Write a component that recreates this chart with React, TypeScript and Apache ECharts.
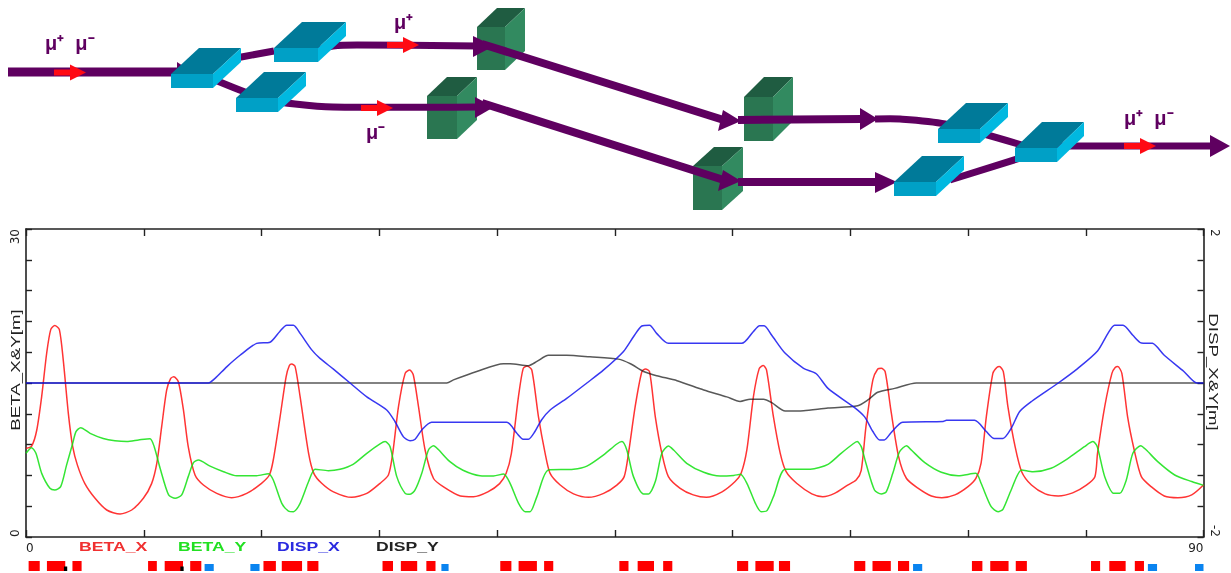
import React, { useEffect, useRef } from "react";
import * as echarts from "echarts";

type Pt = [number, number];

const betaX: Pt[] = [[0,8.64],[0.43,8.86],[0.82,10.4],[1.2,13.7],[1.58,17.9],[1.89,20.2],[2.2,20.6],[2.55,20.2],[2.85,17.2],[3.24,12],[3.57,8.8],[3.93,7],[4.5,5.2],[5.28,3.77],[6.17,2.63],[7.19,2.24],[8.08,2.63],[8.97,3.77],[9.6,5.2],[10,7.2],[10.37,10.75],[10.75,14.3],[11.06,15.45],[11.3,15.6],[11.65,15.1],[12.03,12.4],[12.4,8.8],[12.92,6.04],[13.56,5.06],[14.58,4.25],[15.72,3.83],[16.87,4.25],[18,5.23],[18.6,6.04],[18.9,7.5],[19.42,11.7],[19.88,15.6],[20.13,16.7],[20.31,16.85],[20.57,16.6],[20.95,13.67],[21.6,8.15],[22,6.2],[22.6,5.23],[23.5,4.4],[24.9,3.86],[26.05,4.25],[27.06,5.23],[27.7,6.04],[28.03,8.15],[28.47,12.7],[28.98,15.94],[29.33,16.27],[29.6,15.8],[30,12.7],[30.5,8.5],[31.15,5.7],[31.9,4.9],[33.2,4],[34.2,3.93],[35.3,4.4],[36.2,5.2],[36.7,6.2],[37.1,8.15],[37.64,13.67],[38,16.4],[38.3,16.65],[38.66,16.27],[39.17,11.7],[39.68,8.15],[40.06,6.2],[40.83,5.06],[41.85,4.2],[43,3.86],[44.15,4.25],[45.16,5.06],[45.72,5.88],[46.05,8.15],[46.56,12.7],[47.07,16.1],[47.35,16.36],[47.66,16.1],[48.1,11.7],[48.6,8.15],[49.1,5.88],[50,4.74],[51,4.1],[52,3.86],[53.2,4.4],[54.2,5.4],[54.66,6.2],[55.1,8.5],[55.6,13.67],[56.04,16.4],[56.35,16.7],[56.6,16.27],[57.13,11.7],[57.65,8.15],[58.1,6.36],[58.9,5.23],[60.06,4.2],[60.9,3.93],[61.8,4.25],[62.8,5.06],[63.45,5.55],[63.84,6.5],[64.2,10.75],[64.73,15.3],[65.1,16.36],[65.37,16.43],[65.67,16.1],[66.1,12.4],[66.7,7.8],[67.3,5.7],[68.2,4.74],[69.2,4],[70,3.83],[71,4.1],[72,4.9],[72.6,5.7],[73,7.2],[73.4,11.7],[73.9,15.94],[74.2,16.5],[74.4,16.6],[74.7,16.1],[75.05,12.7],[75.6,8.8],[76.1,6.36],[76.85,5.06],[77.9,4.2],[78.9,4],[80,4.3],[81.05,5.06],[81.7,5.88],[81.9,8.15],[82.45,12.7],[83,15.94],[83.25,16.5],[83.45,16.6],[83.76,15.94],[84.2,11.7],[84.7,8.5],[85.25,5.88],[86,4.9],[87,4],[88.05,3.83],[89.1,4.1],[90,5.06]];

const betaY: Pt[] = [[0,8.15],[0.43,8.7],[0.76,8.15],[1.2,6.2],[1.83,4.74],[2.2,4.58],[2.65,4.9],[3.1,7],[3.57,9.12],[3.82,10.26],[4.18,10.65],[4.9,10.1],[5.9,9.6],[6.8,9.38],[7.7,9.3],[8.6,9.45],[9.48,9.58],[9.8,8.8],[10.25,6.7],[10.9,4.1],[11.4,3.77],[11.9,4.1],[12.4,5.88],[12.8,7.24],[13.18,7.5],[14.07,6.9],[15.1,6.36],[16.1,5.97],[17.63,5.97],[18.53,6.17],[18.9,5.55],[19.55,3.28],[20.06,2.53],[20.44,2.47],[20.95,3.28],[21.6,5.4],[22.1,6.6],[23.1,6.46],[24,6.6],[25,7.08],[26.05,8.15],[27.06,9.06],[27.45,9.29],[27.83,8.8],[28.34,5.88],[28.98,4.25],[29.36,4.16],[29.74,4.58],[30.25,6.2],[30.76,8.47],[31.15,8.9],[31.5,8.54],[32.4,7.34],[33.4,6.5],[34.7,5.97],[35.73,5.94],[36.5,6.14],[37,5.23],[37.65,3.28],[38.15,2.47],[38.53,2.47],[39.05,3.93],[39.93,6.53],[41.85,6.6],[42.87,6.9],[44.15,8],[45.16,9.06],[45.55,9.29],[45.92,8.47],[46.43,5.88],[47.2,4.2],[47.58,4.2],[48.1,5.4],[48.6,8.15],[49.1,8.86],[49.5,8.47],[50.5,7.18],[51.8,6.3],[53.05,5.94],[54.1,6],[54.6,6.1],[55.1,5.23],[55.75,3.28],[56.18,2.47],[56.6,2.53],[57.13,3.93],[58.03,6.6],[59.95,6.6],[61.3,7.08],[62.3,8.15],[63.2,9.06],[63.53,9.29],[63.84,8.8],[64.2,7.18],[64.85,4.58],[65.37,4.2],[65.75,4.4],[66.25,6.2],[66.77,8.3],[67.3,8.9],[67.67,8.47],[68.7,7.24],[69.96,6.3],[71.25,5.97],[72.6,6.2],[73,5.23],[73.77,2.95],[74.3,2.47],[74.67,2.7],[75.3,4.58],[76.1,6.53],[76.97,6.36],[78.35,6.7],[79.65,7.66],[80.9,8.8],[81.55,9.29],[81.88,8.8],[82.45,5.88],[83.16,4.25],[83.6,4.25],[84.1,5.55],[84.6,8.15],[85.2,8.9],[85.63,8.47],[86.5,7.34],[87.8,6.04],[89.1,5.4],[90,5.03]];

const dispX: Pt[] = [[0,0],[13.94,0],[14.45,0.06],[15.34,0.21],[16.36,0.36],[17.63,0.515],[18.65,0.53],[19.4,0.67],[19.93,0.75],[20.44,0.75],[20.95,0.645],[21.84,0.43],[22.47,0.32],[23.5,0.18],[24.77,0],[26.05,-0.18],[27.57,-0.35],[28.2,-0.5],[28.85,-0.7],[29.36,-0.75],[29.74,-0.73],[30.25,-0.61],[31,-0.51],[36.75,-0.51],[37.5,-0.65],[38,-0.73],[38.4,-0.73],[38.9,-0.63],[39.4,-0.48],[40.06,-0.35],[41.33,-0.2],[42.87,0],[44.15,0.17],[45.67,0.41],[46.43,0.6],[47.07,0.74],[47.66,0.75],[48.2,0.645],[49.1,0.515],[54.7,0.515],[55.6,0.67],[56.07,0.745],[56.42,0.745],[57,0.62],[58.03,0.385],[59.43,0.19],[60.4,0.12],[61.3,-0.07],[63.33,-0.32],[64.1,-0.44],[64.73,-0.63],[65.25,-0.74],[65.6,-0.74],[66.1,-0.65],[67,-0.51],[70.1,-0.5],[70.35,-0.485],[72.5,-0.485],[73.4,-0.63],[74,-0.72],[74.67,-0.72],[75.3,-0.59],[75.95,-0.37],[76.85,-0.24],[78.9,0],[80.4,0.19],[81.9,0.415],[82.7,0.645],[83.2,0.75],[83.85,0.75],[84.6,0.62],[85.25,0.52],[86.1,0.515],[87,0.36],[88.5,0.15],[89.5,0],[90,0]];

const dispY: Pt[] = [[0,0],[32.16,0],[32.67,0.04],[34.45,0.15],[36.5,0.25],[37,0.25],[38.4,0.225],[39.05,0.28],[39.93,0.36],[41.33,0.36],[43.1,0.34],[45.28,0.31],[46.2,0.25],[47.2,0.15],[48.2,0.095],[49.76,0.03],[51.8,-0.09],[53.56,-0.18],[54.58,-0.24],[55.35,-0.21],[56.37,-0.21],[57,-0.255],[58.03,-0.365],[59.43,-0.36],[61.3,-0.325],[63.57,-0.295],[64.35,-0.22],[65.1,-0.12],[66.4,-0.07],[68.05,0],[90,0]];

const dipoles: Pt[] = [[0.2,1.05],[1.6,3],[3.55,4.25],[9.33,10],[10.6,12],[12.55,13.4],[18.15,19.1],[19.55,21.1],[21.5,22.35],[27.25,28.05],[28.65,29.9],[30.6,31.3],[36.25,37.1],[37.65,39.05],[39.6,40.3],[45.35,46.05],[46.75,48],[48.7,49.4],[54.35,55.2],[55.75,57.15],[57.55,58.4],[63.3,64.15],[64.7,66.1],[66.65,67.5],[72.3,73.1],[73.7,75.1],[75.65,76.5],[81.4,82.1],[82.8,84.05],[84.75,85.45]];
const quads: Pt[] = [[13.65,14.35],[17.15,17.85],[31.75,32.3],[67.8,68.5],[85.75,86.45],[89.35,90]];
const markers: Pt[] = [[2.9,3.15],[11.8,12.05]];

const legendNames = ["BETA_X", "BETA_Y", "DISP_X", "DISP_Y"];
const legendColors = ["#f03030", "#22e022", "#2a2ae0", "#222222"];
const legendLeft = [79, 178, 277, 376];

const PURPLE = "#5f0060";
const line = (points: number[][], lineWidth: number) => ({
  type: "polyline", z: 20, shape: { points, smooth: 0.3 }, style: { stroke: PURPLE, fill: "none", lineWidth, lineJoin: "round" },
});
const tri = (points: number[][], fill = PURPLE, z = 21) => ({ type: "polygon", z, shape: { points }, style: { fill } });

const box = (fx0: number, fx1: number, fy0: number, fy1: number, dx: number, dy: number, c: string[], z: number) => [
  { type: "polygon", z, shape: { points: [[fx0, fy0], [fx0 + dx, fy0 - dy], [fx1 + dx, fy0 - dy], [fx1, fy0]] }, style: { fill: c[0] } },
  { type: "rect", z, shape: { x: fx0, y: fy0, width: fx1 - fx0, height: fy1 - fy0 }, style: { fill: c[1] } },
  { type: "polygon", z, shape: { points: [[fx1, fy0], [fx1 + dx, fy0 - dy], [fx1 + dx, fy1 - dy], [fx1, fy1]] }, style: { fill: c[2] } },
];
const BLUE = ["#007a99", "#00a0c6", "#00b8e0"];
const GREEN = ["#1f5c41", "#2a7651", "#328a60"];

const redArrow = (x: number, y: number) => [
  { type: "rect", z: 30, shape: { x, y: y - 3, width: 16, height: 6 }, style: { fill: "#ff0a14" } },
  tri([[x + 16, y - 8], [x + 16, y + 8], [x + 32, y]], "#ff0a14", 30),
];

const muText = (text: string, x: number, y: number) => ({
  type: "text", z: 31, x, y,
  style: { text, fill: PURPLE, font: "bold 20px 'Liberation Sans'", align: "left", verticalAlign: "middle", textAlign: "left", textVerticalAlign: "middle" },
});

const sideText = (text: string, x: number, y: number, rotation: number) => ({
  type: "text", z: 31, x, y, rotation, scaleX: 1.5,
  style: { text, fill: "#222222", font: "12.5px 'Liberation Sans'", align: "center", verticalAlign: "middle", textAlign: "center", textVerticalAlign: "middle" },
});

const diagram = [
  ...box(693, 722, 166, 210, 21, 19, GREEN, 10),
  ...box(744, 773, 97, 141, 20, 20, GREEN, 10),
  ...box(477, 505, 27, 70, 20, 19, GREEN, 10),
  ...box(427, 457, 96, 139, 20, 19, GREEN, 10),
  line([[8, 72], [180, 72]], 9),
  tri([[177, 62], [177, 82], [192, 72]]),
  line([[236, 58], [274, 51]], 7),
  line([[318, 50], [333, 46], [357, 45], [477, 46]], 7),
  tri([[473, 36], [473, 57], [494, 46]]),
  line([[482, 44], [730, 122]], 8),
  tri([[723, 110], [741, 121], [718, 131]]),
  line([[738, 120], [862, 119]], 8),
  tri([[860, 108], [860, 130], [878, 119]]),
  line([[875, 119], [900, 119], [945, 124], [1025, 146]], 7),
  line([[215, 80], [245, 92], [270, 100], [295, 104], [333, 107], [477, 107]], 7),
  tri([[475, 97], [475, 118], [494, 107]]),
  line([[482, 103], [730, 182]], 8),
  tri([[723, 170], [741, 181], [718, 191]]),
  line([[738, 182], [880, 182]], 8),
  tri([[875, 172], [875, 193], [897, 182]]),
  line([[950, 180], [1030, 155]], 7),
  line([[1050, 146], [1212, 146]], 7),
  tri([[1210, 135], [1210, 157], [1230, 146]]),
  ...box(171, 213, 74, 88, 28, 26, BLUE, 25),
  ...box(274, 318, 48, 62, 28, 26, BLUE, 25),
  ...box(236, 278, 98, 112, 28, 26, BLUE, 25),
  ...box(938, 980, 129, 143, 28, 26, BLUE, 25),
  ...box(894, 936, 182, 196, 28, 26, BLUE, 25),
  ...box(1015, 1057, 148, 162, 27, 26, BLUE, 25),
  ...redArrow(54, 72.5),
  ...redArrow(387, 45),
  ...redArrow(361, 108),
  ...redArrow(1124, 146),
  muText("μ⁺  μ⁻", 45, 43),
  muText("μ⁺", 394, 22),
  muText("μ⁻", 366, 132),
  muText("μ⁺  μ⁻", 1124, 118),
  sideText("BETA_X&Y[m]", 15.5, 370, Math.PI / 2),
  sideText("DISP_X&Y[m]", 1213, 372, -Math.PI / 2),
  ...legendNames.map((name, i) => ({
    type: "text", z: 31, x: legendLeft[i], y: 547, scaleX: 1.47,
    style: { text: name, fill: legendColors[i], font: "bold 12px 'Liberation Sans'", align: "left", verticalAlign: "middle", textAlign: "left", textVerticalAlign: "middle" },
  })),
];

const stripSeries = (data: Pt[], color: string, height: number) => ({
  type: "custom", xAxisIndex: 2, yAxisIndex: 2, silent: true, clip: false, data,
  encode: { x: [0, 1] },
  renderItem: (_: unknown, api: any) => {
    const a = api.coord([api.value(0), 0]);
    const b = api.coord([api.value(1), height]);
    return { type: "rect", shape: { x: a[0], y: b[1], width: b[0] - a[0], height: a[1] - b[1] }, style: { fill: color } };
  },
});

const lineSeries = (name: string, data: Pt[], color: string, yAxisIndex: number, z: number, opacity = 0.85) => ({
  name, type: "line", data, yAxisIndex, xAxisIndex: 0, symbol: "none", silent: true, z,
  smooth: 0.25,
  lineStyle: { color, width: 1.5, opacity, join: "round" },
});

const axisStyle = { lineStyle: { color: "#222222", width: 1.6 } };
const tickStyle = (length: number) => ({ show: true, inside: true, length, lineStyle: { color: "#222222", width: 1.4 } });
const labelFont = { fontFamily: "DejaVu Sans", fontSize: 12, color: "#222222" };

export default function App() {
  const ref = useRef<HTMLDivElement>(null);
  useEffect(() => {
    const chart = echarts.init(ref.current!, null, { renderer: "svg" });
    chart.setOption({
      animation: false,
      backgroundColor: "#ffffff",
      grid: [
        { left: 26, right: 27.5, top: 229, bottom: 36 },
        { left: 26, right: 27.5, top: 561, height: 10 },
      ],
      xAxis: [
        {
          type: "value", gridIndex: 0, min: 0, max: 90, interval: 9, position: "bottom", splitLine: { show: false },
          axisLine: { show: true, onZero: false, ...axisStyle }, axisTick: tickStyle(7),
          axisLabel: {
            ...labelFont, margin: 5, alignMinLabel: "left", alignMaxLabel: "right",
            formatter: (v: number) => (v === 0 || v === 90 ? String(v) : ""),
          },
        },
        {
          type: "value", gridIndex: 0, min: 0, max: 90, interval: 9, position: "top", splitLine: { show: false },
          axisLine: { show: true, onZero: false, ...axisStyle }, axisTick: tickStyle(7), axisLabel: { show: false },
        },
        { type: "value", gridIndex: 1, min: 0, max: 90, show: false },
      ],
      yAxis: [
        {
          type: "value", gridIndex: 0, min: 0, max: 30, interval: 3, position: "left", splitLine: { show: false },
          axisLine: { show: true, onZero: false, ...axisStyle }, axisTick: tickStyle(6),
          axisLabel: {
            ...labelFont, rotate: 90, margin: 5, alignMinLabel: "left", alignMaxLabel: "right",
            formatter: (v: number) => (v === 0 || v === 30 ? String(v) : ""),
          },
        },
        {
          type: "value", gridIndex: 0, min: -2, max: 2, interval: 0.4, position: "right", splitLine: { show: false },
          axisLine: { show: true, onZero: false, ...axisStyle }, axisTick: tickStyle(6),
          axisLabel: {
            ...labelFont, rotate: -90, margin: 5, alignMinLabel: "right", alignMaxLabel: "left",
            formatter: (v: number) => (Math.abs(Math.abs(v) - 2) < 1e-6 ? String(Math.round(v)) : ""),
          },
        },
        { type: "value", gridIndex: 1, min: 0, max: 1, show: false },
      ],
      series: [
        lineSeries("BETA_X", betaX, "#ff1010", 0, 2),
        lineSeries("BETA_Y", betaY, "#10e010", 0, 3),
        lineSeries("DISP_Y", dispY, "#111111", 1, 4, 0.7),
        lineSeries("DISP_X", dispX, "#1515ee", 1, 5),
        stripSeries(dipoles, "#ff0000", 1),
        stripSeries(quads, "#0a84f0", 0.7),
        stripSeries(markers, "#000000", 0.45),
      ],
      graphic: { elements: diagram },
    });
    return () => chart.dispose();
  }, []);
  return (
    <div
      ref={ref}
      style={{ position: "fixed", left: 0, top: 0, width: 1231, height: 573, background: "#fff", filter: "blur(0.5px)" }}
    />
  );
}
